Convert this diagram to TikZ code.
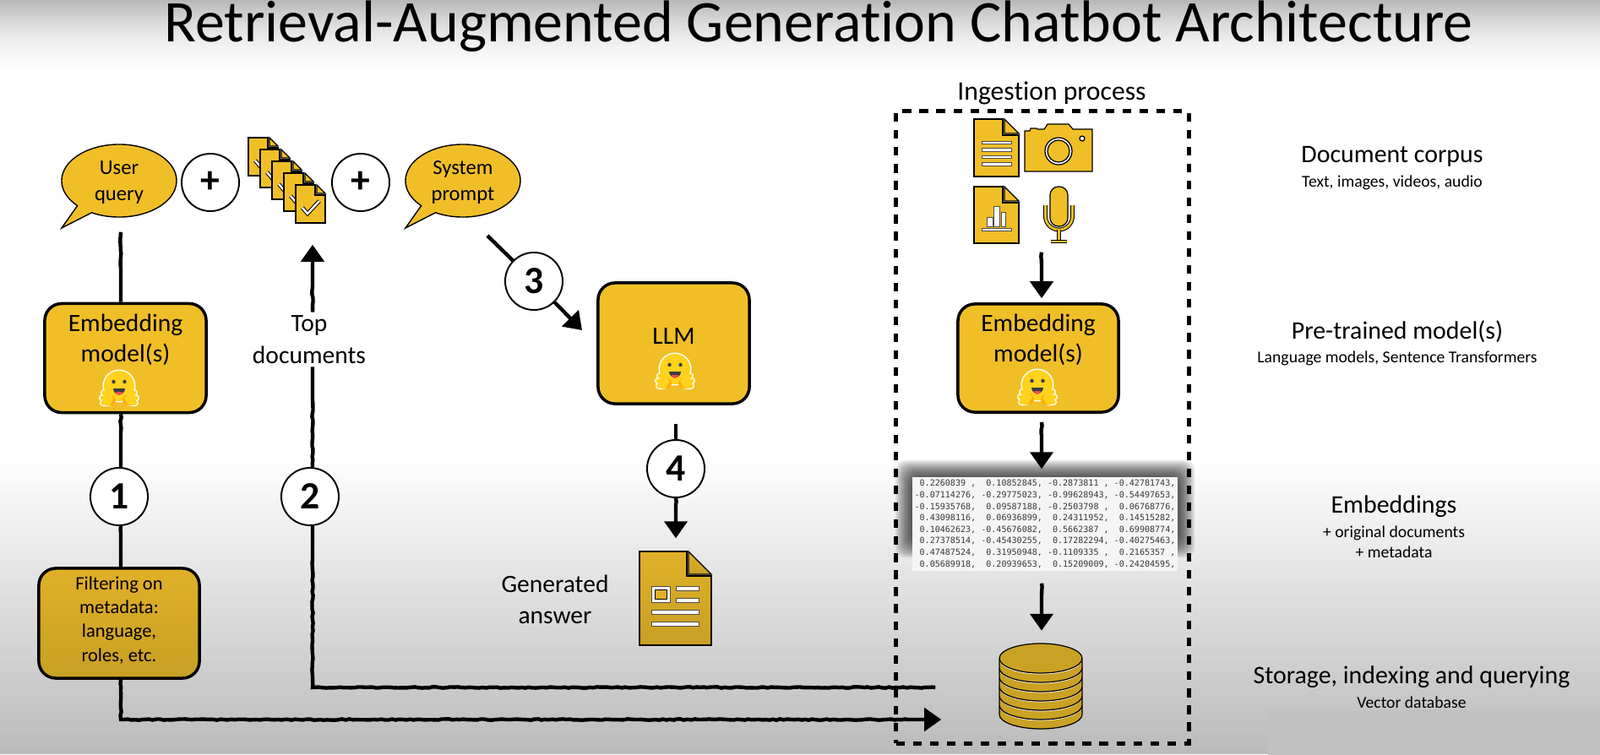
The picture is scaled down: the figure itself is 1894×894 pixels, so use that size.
\documentclass[tikz,border=0pt]{standalone}
\usepackage{fontspec}
\setmainfont{Carlito}[Ligatures={NoCommon}]
\newfontfamily\vecfont{DejaVu Sans Mono}
\usetikzlibrary{arrows.meta,shapes.callouts,decorations.pathmorphing}
\definecolor{gold}{RGB}{240,191,40}
\definecolor{goldtop}{RGB}{224,176,40}
\definecolor{goldlow}{RGB}{200,160,36}
\definecolor{golddb}{RGB}{201,161,35}
\definecolor{topgrey}{RGB}{184,184,184}
\definecolor{lowgrey}{RGB}{186,186,186}
\definecolor{cornergrey}{RGB}{193,193,193}
\definecolor{hugyellow}{RGB}{255,210,30}
\definecolor{hugorange}{RGB}{255,173,3}
\definecolor{hugdark}{RGB}{58,59,69}
\definecolor{hugred}{RGB}{239,78,78}
\newcommand{\pagesheet}[4]{
    \draw[iconline,#4] (0,0)--({#1-#3-2},0)--({#1-#3-2},{#3+2})--(#1,{#3+2})--(#1,#2)--(0,#2)--cycle;
    \draw[iconline,#4] ({#1-#3},0)--(#1,#3)--({#1-#3},#3)--cycle;
}
\newcommand{\iconbar}[4]{\draw[barline] (#1,#2) rectangle (#3,#4);}
\newcommand{\hugface}[2]{
  \begin{scope}[shift={(#1,#2)}]
    \fill[white] (0,-3) ellipse (19.5 and 19.5);
    \foreach \s in {-1,1}{
      \draw[white,line width=2.3pt,line cap=round] (\s*9,12)--(\s*18,5) (\s*11,15)--(\s*20,11) (\s*12,17)--(\s*19,17);
    }
    \fill[hugyellow] (0,-3) ellipse (18 and 18);
    \foreach \s in {-1,1}{
      \fill[hugorange] (\s*12,14) ellipse (8 and 6.5);
      \draw[hugyellow,line width=1.5pt,line cap=round] (\s*9,12)--(\s*18,5) (\s*11,15)--(\s*20,11) (\s*12,17)--(\s*19,17);
      \fill[hugdark] (\s*6.5,-8) circle (2.2);
    }
    \fill[hugdark] (-7,0) arc (180:0:7) -- cycle;
    \fill[hugred] (-4,4) arc (180:0:4) -- cycle;
  \end{scope}
}
\newcommand{\vecrow}[1]{\mbox{#1}}
\tikzset{
  roughline/.style={line width=1.25pt,decorate,decoration={random steps,segment length=1.2pt,amplitude=.2pt,post=lineto,post length=.4cm}},
  roughtip/.style={roughline,-{Triangle[width=.27cm,length=.2cm]}},
  iconline/.style={line width=.35pt,draw=black},
  barline/.style={line width=.2pt,draw=black!70,fill=white},
  modelbox/.style={draw,line width=1pt,rounded corners=.2cm,fill=gold,align=center,inner sep=0pt,font=\fontsize{8.4}{10.4}\selectfont},
  bubble/.style={ellipse callout,draw,line width=.4pt,fill=gold,minimum width=1.36cm,minimum height=.86cm,inner sep=0pt,align=center,callout pointer arc=18,font=\fontsize{7}{8.8}\selectfont},
  numcircle/.style={circle,draw,line width=.55pt,fill=white,minimum size=.68cm,inner sep=0pt,font=\fontsize{13}{13}\selectfont\bfseries},
  flowtext/.style={align=center,inner sep=1pt,font=\fontsize{8.4}{10.6}\selectfont},
  headtext/.style={align=center,inner sep=0pt,font=\fontsize{8.5}{10.6}\selectfont},
  subtext/.style={align=center,inner sep=0pt,font=\fontsize{5.6}{6.8}\selectfont},
  slot/.style={inner sep=0pt,minimum width=#1},
}
\begin{document}
\begin{tikzpicture}[x=.01cm,y=-.01cm]
\useasboundingbox (0,0) rectangle (1894,894);
% background bands
\fill[white] (0,0) rectangle (1894,894);
\foreach \y in {0,2,...,94}{
  \pgfmathsetmacro\mixp{100*(1-(1-\y/95)*(1-\y/95))}
  \fill[white!\mixp!topgrey] (0,\y) rectangle (1894,\y+3);
}
\foreach \y in {540,544,...,890}{
  \pgfmathsetmacro\mixp{100-(\y-540)/354*100}
  \fill[white!\mixp!lowgrey] (0,\y) rectangle (1894,\y+5);
}
\fill[cornergrey] (1501,841) rectangle (1894,894);
\node[anchor=base,inner sep=0pt,font=\fontsize{19.9}{24}\selectfont] (title) at (969,50) {Retrieval-Augmented Generation Chatbot Architecture};
% query side
\node[bubble,callout absolute pointer={(73,270)}] (userq) at (141,214) {\rule{0pt}{.2cm}User\\query};
\node[numcircle] (plusa) at (249,216) {+};
\node[slot=.9cm,minimum height=1.01cm] (stack) at (339,214) {};
\foreach \n in {0,...,4}{
  \begin{scope}[shift={({294+14*\n},{163+14*\n})}]
    \pagesheet{35}{45}{10}{fill=gold}
    \draw[line width=.3pt,double=white,double distance=.7pt] (8,27)--(14,34)--(28,19);
  \end{scope}
}
\node[numcircle] (plusb) at (427,216) {+};
\node[bubble,callout absolute pointer={(480,270)}] (sysq) at (548,214) {\rule{0pt}{.2cm}System\\prompt};
\node[modelbox,minimum width=1.91cm,minimum height=1.29cm] (embedl) at (148.5,424) {Embedding\\model(s)\\\rule{0pt}{.4cm}};
\hugface{141}{460}
\node[numcircle] (one) at (141,588) {1};
\node[modelbox,top color=goldtop,bottom color=goldlow,minimum width=1.9cm,minimum height=1.3cm,font=\fontsize{6.4}{8}\selectfont] (filter) at (141,738) {Filtering on\\metadata:\\language,\\roles, etc.\rule[-.1cm]{0pt}{.1cm}};
\node[numcircle] (two) at (367,588) {2};
\node[flowtext] (topdocs) at (366,402) {Top\\documents};
\node[numcircle] (three) at (632,333) {3};
\node[modelbox,minimum width=1.79cm,minimum height=1.43cm] (llm) at (797.5,406.5) {\rule[-.16cm]{0pt}{.01cm}LLM};
\hugface{799}{440}
\node[numcircle] (four) at (800,555) {4};
\node[slot=.85cm,minimum height=1.11cm] (answer) at (799.5,708.5) {};
\begin{scope}[shift={(757,653)}]
  \pagesheet{85}{111}{27}{top color=goldtop,bottom color=goldlow}
  \draw[barline] (14,41) rectangle (36,60);
  \draw[iconline,line width=.2pt,fill=goldtop] (18,45) rectangle (32,56);
  \iconbar{43}{41}{70}{46}
  \iconbar{43}{55}{70}{60}
  \iconbar{14}{69}{70}{74}
  \iconbar{14}{83}{70}{88}
\end{scope}
\node[flowtext] (gentext) at (657,710) {Generated\\answer};
% ingestion
\node[draw,line width=1.4pt,dash pattern=on 2.9pt off 2.8pt,minimum width=3.46cm,minimum height=7.48cm] (ingest) at (1234,506) {};
\node[font=\fontsize{9}{11}\selectfont,inner sep=0pt] (ingtext) at (1245,110) {Ingestion process};
\begin{scope}[shift={(1153,141)}]
  \pagesheet{53}{68}{17}{fill=gold}
  \foreach \y in {26,34.5,43,51.5}{\iconbar{9}{\y}{44}{\y+3.5}}
\end{scope}
\draw[iconline,fill=gold] (1213,155)--(1219,155)--(1220,152)--(1227,152)--(1228,153)--(1236,153)--(1240,147)--(1265,147)--(1270,153)--(1293,153)--(1293,203)--(1213,203)--cycle;
\draw[iconline,fill=white] (1253,179) circle (16);
\draw[iconline,fill=gold] (1253,179) circle (13);
\draw[iconline,fill=white] (1281,164) circle (3);
\begin{scope}[shift={(1153,221)}]
  \pagesheet{53}{67}{17}{fill=gold}
  \iconbar{15}{36}{22}{47}
  \iconbar{23}{23}{30}{47}
  \iconbar{32}{30}{37}{47}
  \iconbar{9}{49}{44}{52}
\end{scope}
\draw[iconline,fill=gold,rounded corners=.1cm] (1243,221) rectangle (1264,268);
\draw[line width=.3pt,double=gold,double distance=.8pt] (1237.5,243)--(1237.5,256) arc (180:0:16)--(1269.5,243);
\draw[line width=.3pt,double=gold,double distance=.8pt] (1253.5,272)--(1253.5,285);
\draw[line width=.3pt,double=gold,double distance=.8pt] (1244,286)--(1263,286);
\node[slot=.8cm,minimum height=.6cm] (corpus) at (1233,268) {};
\node[modelbox,minimum width=1.9cm,minimum height=1.28cm] (embedr) at (1229,424) {Embedding\\model(s)\\\rule{0pt}{.4cm}};
\hugface{1228}{459}
% vectors with their shadow
\foreach \d in {20,18,...,2}{
  \fill[black,opacity=.09,rounded corners=.12cm] ({1080-\d},{565-\d}) rectangle ({1394+\d},{640+\d});
}
\node[fill=white!96!black,minimum width=3.14cm,minimum height=1.11cm,inner sep=0pt,align=left,text=black!78,font=\vecfont\fontsize{2.86}{3.87}\selectfont] (vectors) at (1237,620.5) {%
\vecrow{~0.2260839~,~~0.10852845,~-0.2873811~,~-0.42781743,}\\
\vecrow{-0.07114276,~-0.29775023,~-0.99628943,~-0.54497653,}\\
\vecrow{-0.15935768,~~0.09587188,~-0.2503798~,~~0.06768776,}\\
\vecrow{~0.43098116,~~0.06936899,~~0.24311952,~~0.14515282,}\\
\vecrow{~0.10462623,~-0.45676082,~~0.5662387~,~~0.69908774,}\\
\vecrow{~0.27378514,~-0.45430255,~~0.17282294,~-0.40275463,}\\
\vecrow{~0.47487524,~~0.31950948,~-0.1109335~,~~0.2165357~,}\\
\vecrow{~0.05689918,~~0.20939653,~~0.15209009,~-0.24204595,}};
\node[slot=1cm,minimum height=1.01cm] (vdb) at (1232,812) {};
\foreach \k in {5,4,...,0}{
  \begin{scope}[shift={(1232,{782+11*\k})}]
    \draw[iconline,fill=golddb] (-49,0)--(-49,9) arc (180:0:49 and 17)--(49,0) arc (0:-180:49 and 17)--cycle;
    \draw[white,line width=.5pt] (-48,-1) arc (180:0:48 and 16.5);
  \end{scope}
}
\draw[iconline,fill=golddb] (1232,779.5) ellipse (49 and 17.5);
% connectors
\draw[roughline] ([xshift=.02cm,yshift=-.17cm]userq.south) -- ([xshift=.02cm]userq.south |- embedl.north);
\draw[roughline] ([xshift=.02cm]one.north |- embedl.south) -- ([xshift=.02cm]one.north);
\draw[roughline] ([xshift=.02cm]one.south) -- ([xshift=.02cm]filter.north);
\draw[roughtip] ([xshift=.02cm]filter.south) |- ([xshift=-.67cm,yshift=-.4cm]vdb.west);
\draw[roughline] ([xshift=-.74cm,yshift=-.02cm]vdb.west) -| ([xshift=.03cm]two.south);
\draw[roughline] ([xshift=.03cm]two.north) -- ([xshift=.04cm]topdocs.south);
\draw[roughtip] ([xshift=.04cm]topdocs.north) -- ([xshift=.04cm,yshift=-.245cm]topdocs.north |- stack.south);
\coordinate (sysqout) at (577,279);
\coordinate (llmin) at (689,391);
\draw[roughline] (sysqout) -- (three);
\draw[roughtip] (three) -- (llmin);
\draw[roughline] ([yshift=-.22cm]four.north |- llm.south) -- (four.north);
\draw[roughtip] (four.south) -- ([yshift=.15cm]four.south |- answer.north);
\draw[roughtip] (corpus.south) -- ([yshift=.05cm]corpus.south |- embedr.north);
\draw[roughtip] ([xshift=.04cm,yshift=-.1cm]embedr.south) -- ([xshift=-.04cm,yshift=.09cm]vectors.north);
\draw[roughtip] ([xshift=-.04cm,yshift=-.14cm]vectors.south) -- ([xshift=-.04cm,yshift=.14cm]vectors.south |- vdb.north);
% captions
\node[headtext] (capa) at (1648,185.5) {Document corpus};
\node[subtext] (capasub) at (1648,216) {Text, images, videos, audio};
\node[headtext] (capb) at (1654,393) {Pre-trained model(s)};
\node[subtext] (capbsub) at (1654,424) {Language models, Sentence Transformers};
\node[headtext] (capc) at (1650,600) {Embeddings};
\node[subtext] (capcsub) at (1650,642) {+ original documents\\+ metadata};
\node[headtext] (capd) at (1671,801.5) {Storage, indexing and querying};
\node[subtext] (capdsub) at (1671,832) {Vector database};
\end{tikzpicture}
\end{document}
